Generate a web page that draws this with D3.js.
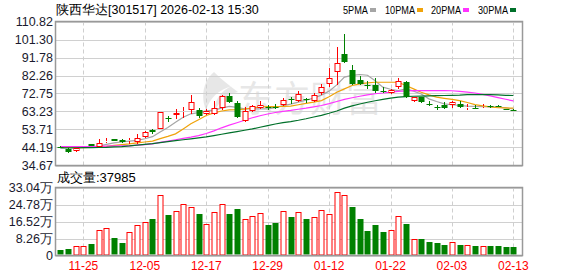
<!DOCTYPE html>
<html>
<head>
<meta charset="utf-8">
<script src="https://cdnjs.cloudflare.com/ajax/libs/d3/7.8.5/d3.min.js"></script>
<style>
  body { margin: 0; background: #fff; }
  svg text { font-family: "Liberation Sans", Arial, sans-serif; }
</style>
</head>
<body>
<div id="chart"></div>
<script>
// trading days, 2025-11-20 .. 2026-02-13
var dates = ["11-20","11-21","11-24","11-25","11-26","11-27","11-28",
  "12-01","12-02","12-03","12-04","12-05","12-08","12-09","12-10","12-11","12-12",
  "12-15","12-16","12-17","12-18","12-19","12-22","12-23","12-24","12-25","12-26",
  "12-29","12-30","12-31",
  "01-05","01-06","01-07","01-08","01-09","01-12","01-13","01-14","01-15","01-16",
  "01-19","01-20","01-21","01-22","01-23","01-26","01-27","01-28","01-29","01-30",
  "02-02","02-03","02-04","02-05","02-06","02-09","02-10","02-11","02-12","02-13"];

var open  = [44.6,43.5,42.1,44.0,45.8,44.7,47.4,48.6,47.9,47.5,47.0,49.6,53.5,54.1,60.0,61.3,63.2,63.8,64.1,62.0,
             62.0,65.2,71.2,67.6,58.1,63.4,65.0,65.6,65.7,66.4,69.6,68.7,69.6,69.0,72.9,77.9,84.0,93.7,85.3,80.0,
             77.0,77.5,74.1,72.9,76.1,78.7,69.0,70.8,67.1,65.5,66.4,66.4,67.3,65.4,65.3,65.9,66.0,66.0,64.6,64.1];
var high  = [44.8,43.8,44.0,44.6,46.2,48.8,49.3,48.8,48.5,49.3,51.4,52.8,54.1,62.9,60.9,64.6,65.4,72.2,65.2,64.6,
             68.7,72.2,72.9,68.8,65.6,66.9,68.8,66.4,67.4,70.5,71.0,74.1,70.5,73.0,77.9,86.3,97.2,104.3,87.6,82.2,
             79.6,81.0,76.1,75.2,81.0,79.6,70.8,71.0,68.6,66.9,68.1,69.0,68.6,67.3,66.4,67.3,66.6,66.4,64.8,64.8];
var low   = [43.9,41.5,41.9,43.8,44.8,44.5,46.8,47.5,46.5,46.3,45.8,49.4,51.5,53.9,57.6,59.4,59.6,62.1,59.7,61.4,
             61.4,64.2,67.5,59.8,57.6,62.9,64.7,64.2,64.7,65.9,67.4,68.2,67.9,68.2,72.2,76.1,77.5,88.8,77.0,77.0,
             75.2,73.0,73.0,72.6,75.2,70.5,68.2,67.9,65.9,64.1,64.7,65.2,65.2,64.1,64.4,65.2,65.2,65.5,64.0,63.4];
var close = [44.3,42.0,43.8,44.3,45.0,46.8,47.6,47.7,47.2,48.3,49.3,52.6,52.3,62.7,59.7,62.3,63.4,68.1,61.1,63.4,
             65.2,71.2,68.1,60.2,63.4,65.9,66.4,65.6,65.7,69.4,69.3,72.6,69.3,71.9,76.1,81.0,88.8,89.3,77.9,77.9,
             76.6,74.3,73.8,74.7,79.6,70.8,70.8,68.1,66.8,65.5,65.2,68.1,65.5,65.6,65.1,66.1,65.8,65.8,64.1,64.1];

// volume, unit 万, and bar colour as shown (1 = red, 0 = green)
var volume = [2.9,3.4,4.4,4.4,5.8,12.5,13.4,8.6,6.3,11.2,14.9,16.4,17.5,29.6,19.9,21.7,24.8,23.6,20.4,15.5,
              21.2,24.8,20.4,22.4,17.8,19.3,20.7,14.6,16.0,21.7,18.5,21.2,17.5,18.8,22.2,20.2,30.9,29.6,23.8,17.5,
              12.1,14.6,11.2,12.5,19.3,15.5,8.1,7.8,6.8,6.3,4.9,6.6,5.2,5.2,4.4,4.7,4.4,4.4,3.9,3.9];
var volUp  = [0,0,1,1,0,1,1,0,0,1,1,1,0,1,0,1,1,1,0,1,
              1,1,0,0,1,1,1,0,0,1,0,1,0,1,1,1,1,1,0,0,
              0,0,0,1,1,0,1,0,0,0,0,1,0,1,0,1,0,0,0,0];

var ma5  = [44.4,44.3,44.2,44.2,44.3,44.9,45.8,46.6,47.2,47.6,48.0,48.8,49.9,52.4,54.8,57.5,60.2,62.0,62.6,63.6,
            64.0,65.0,65.9,65.4,64.6,64.6,64.6,64.6,65.2,66.3,67.1,68.2,69.2,70.3,71.9,74.0,77.3,81.4,82.3,82.8,
            82.4,79.5,76.1,75.0,74.3,75.2,74.0,72.5,69.9,68.5,67.3,66.8,66.4,66.1,65.9,65.8,65.6,65.5,65.1,64.6];
var ma10 = [44.3,44.2,44.1,44.1,44.2,44.4,44.8,45.3,45.7,46.1,46.6,47.1,47.6,48.9,50.1,51.4,54.0,56.7,58.9,61.1,
            62.5,63.5,64.1,64.2,64.5,65.2,65.6,65.8,65.8,65.9,66.1,66.8,67.5,68.2,69.0,71.0,73.4,75.2,77.0,77.8,
            78.4,78.7,78.7,78.7,78.7,77.0,75.2,73.4,72.0,70.8,70.2,69.6,69.0,68.0,66.9,66.2,65.7,65.2,65.1,65.0];
var ma20 = [44.7,44.7,44.7,44.7,44.7,44.8,44.9,45.0,45.0,45.1,45.4,45.7,46.1,46.9,47.6,48.3,49.0,49.7,50.5,51.6,
            53.0,54.6,56.0,57.3,58.6,59.9,61.0,61.9,62.7,63.3,63.8,64.4,65.0,65.7,66.4,67.4,68.5,69.6,70.5,71.3,
            72.0,72.6,73.0,73.5,73.9,74.1,74.3,74.3,74.3,74.3,74.3,74.2,73.9,73.5,73.0,72.3,71.5,70.6,69.7,68.8];
var ma30 = [44.0,44.0,44.0,44.1,44.1,44.2,44.3,44.5,44.7,45.0,45.4,45.8,46.2,46.8,47.3,47.8,48.3,48.8,49.3,49.8,
            50.5,51.2,51.9,52.6,53.3,54.0,54.9,55.8,56.6,57.3,57.9,58.6,59.4,60.3,61.2,62.3,63.5,65.0,66.2,67.2,
            68.1,68.9,69.6,70.3,70.8,71.1,71.3,71.4,71.5,71.6,71.7,71.8,71.9,72.1,72.2,72.2,72.1,72.0,71.8,71.7];

var priceTicks = [34.67,44.19,53.71,63.23,72.75,82.26,91.78,101.30,110.82];
var volTicks = [0,8.26,16.52,24.78,33.04];
var dateTicks = ["11-25","12-05","12-17","12-29","01-12","01-22","02-03","02-13"];

var maNames = ["5PMA","10PMA","20PMA","30PMA"];
var maColors = ["#a6a6a6","#f0a30a","#ff33ff","#00702a"];

var up = "#ff0000", down = "#008000";

var W = 578, H = 276;
var left = 55.5, right = 522.5;
var priceTop = 21.5, priceBottom = 165.5;
var volTop = 187.5, volBottom = 255.5;

var svg = d3.select("#chart").append("svg")
    .attr("width", W)
    .attr("height", H);

var x = d3.scaleBand()
    .domain(dates)
    .range([56.5, 517.2])
    .padding(0);
var cx = function(d) { return Math.round(x(d) + x.bandwidth() / 2) + 0.5; };

var y = d3.scaleLinear()
    .domain([34.67, 110.82])
    .range([priceBottom, priceTop]);

var yv = d3.scaleLinear()
    .domain([0, 33.04])
    .range([volBottom, volTop]);

// ---- title & legend
svg.append("text")
    .attr("x", 56).attr("y", 14)
    .style("font-size", "12.5px")
    .attr("fill", "#000")
    .text("陕西华达[301517] 2026-02-13 15:30");

var legend = svg.append("g").attr("transform", "translate(343,14)");
var legX = [0, 42, 88, 135];
maNames.forEach(function(n, i) {
    var w = n.length == 4 ? 25 : 30;
    legend.append("text")
        .attr("x", legX[i]).attr("y", 0)
        .attr("textLength", w)
        .attr("lengthAdjust", "spacingAndGlyphs")
        .style("font-size", "11px")
        .attr("fill", "#000")
        .text(n);
    legend.append("rect")
        .attr("x", legX[i] + w + 2).attr("y", -6)
        .attr("width", 6).attr("height", 4)
        .attr("fill", maColors[i]);
});

// ---- watermark
var wm = svg.append("g").attr("opacity", 0.17);
wm.append("path")
    .attr("d", "M214,72 C204,80 200,96 206,110 C210,98 218,90 232,86 C222,90 214,100 214,112 C220,100 228,94 238,92 C230,86 222,80 214,72 Z")
    .attr("fill", "#777");
wm.append("text")
    .attr("x", 238).attr("y", 112)
    .style("font-size", "36px")
    .style("font-family", "Noto Sans CJK SC")
    .attr("fill", "#777")
    .text("东方财富");

// ---- price panel grid
var gp = svg.append("g");
gp.selectAll(".hg")
    .data(priceTicks)
    .enter().append("line")
    .attr("x1", left).attr("x2", right)
    .attr("y1", function(d) { return Math.round(y(d)) + 0.5; })
    .attr("y2", function(d) { return Math.round(y(d)) + 0.5; })
    .attr("stroke", "#d0d0d0");

function vgrid(g, y0, y1) {
    g.selectAll(".vg")
        .data(dateTicks)
        .enter().append("line")
        .attr("x1", cx).attr("x2", cx)
        .attr("y1", y0).attr("y2", y1)
        .attr("stroke", "#cfcfcf")
        .attr("stroke-dasharray", "4,3");
}
vgrid(gp, priceTop, priceBottom);

var yAxis = d3.axisLeft(y)
    .tickValues(priceTicks)
    .tickFormat(d3.format(".2f"))
    .tickSize(0);
svg.append("g")
    .attr("transform", "translate(53,0)")
    .call(yAxis)
    .call(function(g) { g.select(".domain").remove(); })
    .selectAll("text")
    .attr("x", 0)
    .style("font-size", "12.5px")
    .style("font-family", "Liberation Sans, Arial, sans-serif")
    .attr("fill", "#1a1a2e");

// ---- moving averages
var maData = [ma5, ma10, ma20, ma30];
var line = d3.line()
    .x(function(d, i) { return x(dates[i]) + x.bandwidth() / 2; })
    .y(function(d) { return y(d); });
maData.forEach(function(s, i) {
    svg.append("path")
        .datum(s)
        .attr("d", line)
        .attr("fill", "none")
        .attr("stroke", maColors[i])
        .attr("stroke-width", 1.2);
});

// ---- candles
var candles = svg.append("g")
    .selectAll("g")
    .data(dates)
    .enter().append("g");

candles.each(function(d, i) {
    var g = d3.select(this);
    var o = open[i], c = close[i];
    var isUp = c > o || (c == o && volUp[i] == 1);
    var col = isUp ? up : down;
    var xc = cx(d);
    var top = Math.round(y(Math.max(o, c)));
    var bot = Math.round(y(Math.min(o, c)));
    var hy = Math.round(y(high[i])), ly = Math.round(y(low[i]));
    if (bot - top < 1) bot = top + 1;
    g.append("line")
        .attr("x1", xc).attr("x2", xc)
        .attr("y1", hy).attr("y2", top)
        .attr("stroke", col);
    g.append("line")
        .attr("x1", xc).attr("x2", xc)
        .attr("y1", bot).attr("y2", ly)
        .attr("stroke", col);
    if (isUp) {
        g.append("rect")
            .attr("x", xc - 2.5).attr("y", top + 0.5)
            .attr("width", 5).attr("height", Math.max(bot - top - 1, 0))
            .attr("fill", "#fff").attr("stroke", col);
    } else {
        g.append("rect")
            .attr("x", xc - 3).attr("y", top)
            .attr("width", 6).attr("height", bot - top)
            .attr("fill", col);
    }
});

// price box
svg.append("rect")
    .attr("x", left).attr("y", priceTop)
    .attr("width", right - left).attr("height", priceBottom - priceTop)
    .attr("fill", "none").attr("stroke", "#999").attr("stroke-width", 1.5);

// ---- volume panel
svg.append("text")
    .attr("x", 57).attr("y", 182)
    .style("font-size", "13px")
    .attr("fill", "#000")
    .text("成交量:37985");

var gv = svg.append("g");
gv.selectAll(".hg")
    .data(volTicks)
    .enter().append("line")
    .attr("x1", left).attr("x2", right)
    .attr("y1", function(d) { return Math.round(yv(d)) + 0.5; })
    .attr("y2", function(d) { return Math.round(yv(d)) + 0.5; })
    .attr("stroke", "#d0d0d0");
vgrid(gv, volTop, volBottom);

var vAxis = d3.axisLeft(yv)
    .tickValues(volTicks)
    .tickFormat(function(d) { return d == 0 ? "0" : d3.format(".2f")(d) + "万"; })
    .tickSize(0);
svg.append("g")
    .attr("transform", "translate(53,0)")
    .call(vAxis)
    .call(function(g) { g.select(".domain").remove(); })
    .selectAll("text")
    .attr("x", 0)
    .style("font-size", "12.5px")
    .style("font-family", "Liberation Sans, Arial, sans-serif")
    .attr("fill", "#1a1a2e");

svg.append("g")
    .selectAll("rect")
    .data(dates)
    .enter().append("rect")
    .attr("x", function(d) { return cx(d) - 2.5; })
    .attr("y", function(d, i) { return Math.round(yv(volume[i])) + 0.5; })
    .attr("width", function(d, i) { return volUp[i] ? 5 : 6; })
    .attr("height", function(d, i) { return volBottom - Math.round(yv(volume[i])) - 1; })
    .attr("fill", function(d, i) { return volUp[i] ? "#fff" : down; })
    .attr("stroke", function(d, i) { return volUp[i] ? up : "none"; })
    .attr("transform", function(d, i) { return volUp[i] ? null : "translate(-0.5,-0.5)"; });

svg.append("rect")
    .attr("x", left).attr("y", volTop)
    .attr("width", right - left).attr("height", volBottom - volTop)
    .attr("fill", "none").attr("stroke", "#999").attr("stroke-width", 1.5);

// ---- x axis labels
var xAxis = d3.axisBottom(x)
    .tickValues(dateTicks)
    .tickSize(0);
svg.append("g")
    .attr("transform", "translate(0,258)")
    .call(xAxis)
    .call(function(g) { g.select(".domain").remove(); })
    .selectAll("text")
    .style("font-size", "12px")
    .style("font-family", "Liberation Sans, Arial, sans-serif")
    .attr("fill", "#ff0000");
</script>
</body>
</html>
